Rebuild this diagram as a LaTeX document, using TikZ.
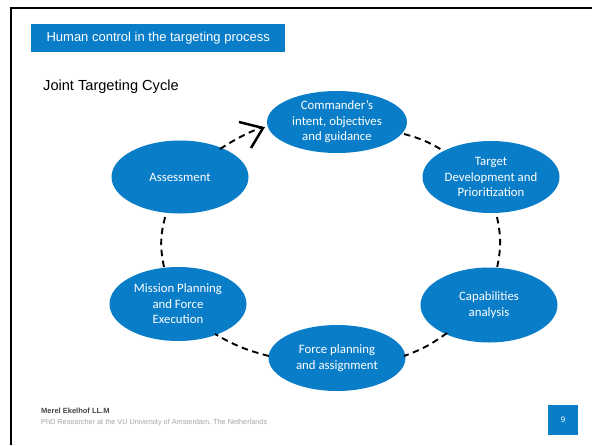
\documentclass[tikz,border=0pt]{standalone}
\usepackage{fontspec}
\setmainfont{Liberation Sans}
\newfontfamily\calib{Carlito}
\usetikzlibrary{arrows.meta,shapes.geometric}
\definecolor{sblue}{RGB}{10,125,200}
\definecolor{footgray}{RGB}{70,70,70}
\definecolor{lightgray2}{RGB}{165,165,165}
\begin{document}
\begin{tikzpicture}[x=1pt,y=-1pt,
  phase/.style={ellipse, fill=sblue, draw=none, minimum width=137pt, minimum height=72pt, inner sep=0pt, text=white, font=\calib\fontsize{12.8}{15.5}\selectfont, align=center},
  link/.style={draw=black, line width=1.9pt, dash pattern=on 6.5pt off 4.5pt}
]
\useasboundingbox (0,0) rectangle (592,445);
\fill[white] (0,0) rectangle (592,445);
% frame
\draw[line width=2pt] (11,445) -- (11,8) -- (592,8);
% title bar
\node[fill=sblue, minimum width=254pt, minimum height=28pt, inner sep=0pt, anchor=north west, text=white, font=\fontsize{13}{15}\selectfont] (title) at (31,24) {Human control in the targeting process};
\node[anchor=west, font=\fontsize{14.6}{16}\selectfont, inner sep=0pt] (sub) at (43,87) {Joint Targeting Cycle};
% phases
\node[phase, minimum width=140pt, minimum height=62pt] (cmd) at (337,122) {Commander’s\\intent, objectives\\and guidance};
\node[phase] (tgt) at (491,177) {Target\\Development and\\Prioritization};
\node[phase, minimum height=75pt] (cap) at (489,305) {Capabilities\\analysis};
\node[phase, minimum height=66pt] (frc) at (337,358) {Force planning\\and assignment};
\node[phase, minimum height=74pt] (msn) at (178,304) {Mission Planning\\and Force\\Execution};
\node[phase, minimum height=73pt] (ass) at (180,177) {Assessment};
% connector end points
\coordinate (c1s) at (220,149);
\coordinate (c1e) at (262,127);
\coordinate (c2s) at (404,134);
\coordinate (c2e) at (442,150);
\coordinate (c3s) at (497,217);
\coordinate (c3e) at (497,268);
\coordinate (c4s) at (447,333);
\coordinate (c4e) at (404,356);
\coordinate (c5s) at (269,356);
\coordinate (c5e) at (215,334);
\coordinate (c6s) at (164,267);
\coordinate (c6e) at (166,214);
% connectors
\draw[link] (c1s) to[bend left=5] (c1e);
\draw[line width=2.5pt] (239,122) -- (263,128) -- (251,148);
\draw[link] (c2s) to[bend left=8] (c2e);
\draw[link] (c3s) to[bend left=12] (c3e);
\draw[link] (c4s) to[bend left=8] (c4e);
\draw[link] (c5s) to[bend left=8] (c5e);
\draw[link] (c6s) to[bend left=14] (c6e);
% footer
\node[anchor=west, inner sep=0pt, text=footgray, font=\bfseries\fontsize{7.5}{9}\selectfont] (auth) at (41,411) {Merel Ekelhof LL.M};
\node[anchor=west, inner sep=0pt, text=lightgray2, font=\fontsize{7.3}{9}\selectfont] (aff) at (41,423) {PhD Researcher at the VU University of Amsterdam, The Netherlands};
\node[fill=sblue, minimum width=30pt, minimum height=30pt, inner sep=0pt, text=white, font=\fontsize{8}{9}\selectfont] (pg) at (563,420) {9};
\end{tikzpicture}
\end{document}
